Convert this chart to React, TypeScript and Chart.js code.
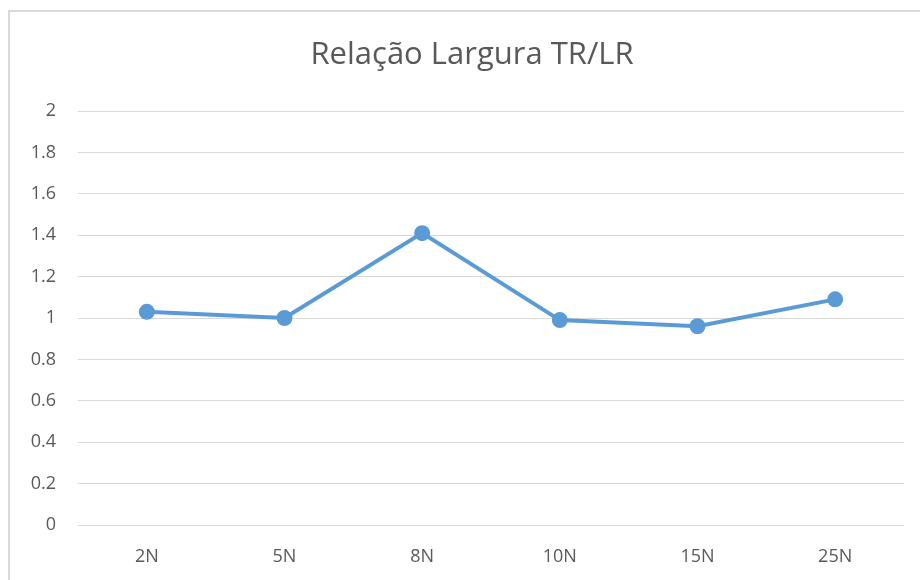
import React, { useEffect, useRef } from "react";
import { Chart, registerables } from "chart.js";

Chart.register(...registerables);

const categories = ["2N", "5N", "8N", "10N", "15N", "25N"];
const ratioValues = [1.03, 1.0, 1.41, 0.99, 0.96, 1.09];
const titleText = "Relação Largura TR/LR";
const yMin = 0;
const yMax = 2;
const yStep = 0.2;

const titlePlugin = {
  id: "customTitle",
  afterDraw(chart: any) {
    const ctx = chart.ctx;
    ctx.save();
    ctx.fillStyle = "#595959";
    ctx.font = "31px 'Open Sans', sans-serif";
    ctx.textAlign = "center";
    ctx.textBaseline = "middle";
    ctx.fillText(titleText, 472, 55);
    ctx.restore();
  },
};

export default function App() {
  const canvasRef = useRef<HTMLCanvasElement | null>(null);

  useEffect(() => {
    const canvas = canvasRef.current;
    if (!canvas) return;
    const chart = new Chart(canvas, {
      type: "line",
      data: {
        labels: categories,
        datasets: [
          {
            data: ratioValues,
            borderColor: "#5B9BD5",
            backgroundColor: "#5B9BD5",
            borderWidth: 4,
            pointRadius: 6,
            pointHoverRadius: 6,
            pointBackgroundColor: "#5B9BD5",
            pointBorderColor: "#5B9BD5",
            tension: 0,
          },
        ],
      },
      plugins: [titlePlugin],
      options: {
        animation: false,
        responsive: false,
        maintainAspectRatio: false,
        layout: { padding: { left: 0, right: 16, top: 111, bottom: 0 } },
        plugins: {
          legend: { display: false },
          tooltip: { enabled: false },
          title: { display: false },
        },
        scales: {
          x: {
            offset: true,
            grid: { display: false, drawTicks: false },
            border: { display: false },
            ticks: {
              color: "#595959",
              font: { family: "'Open Sans', sans-serif", size: 18 },
              padding: 21,
            },
            afterFit: (scale: any) => {
              scale.height = 55;
            },
          },
          y: {
            min: yMin,
            max: yMax,
            grid: { color: "#d9d9d9", lineWidth: 1, drawTicks: false },
            border: { display: false },
            ticks: {
              stepSize: yStep,
              color: "#595959",
              font: { family: "'Open Sans', sans-serif", size: 18 },
              padding: 22,
              callback: (v: any) => String(Math.round(Number(v) * 10) / 10),
            },
            afterFit: (scale: any) => {
              scale.width = 78;
            },
          },
        },
      },
    });
    return () => chart.destroy();
  }, []);

  return (
    <div style={{ position: "fixed", left: 0, top: 0, width: 920, height: 580, background: "#fff", overflow: "hidden" }}>
      <div
        style={{
          position: "absolute",
          left: 8,
          top: 10,
          width: 940,
          height: 600,
          border: "2px solid #d9d9d9",
          boxSizing: "border-box",
        }}
      />
      <canvas ref={canvasRef} width={920} height={580} style={{ position: "absolute", left: 0, top: 0 }} />
    </div>
  );
}
